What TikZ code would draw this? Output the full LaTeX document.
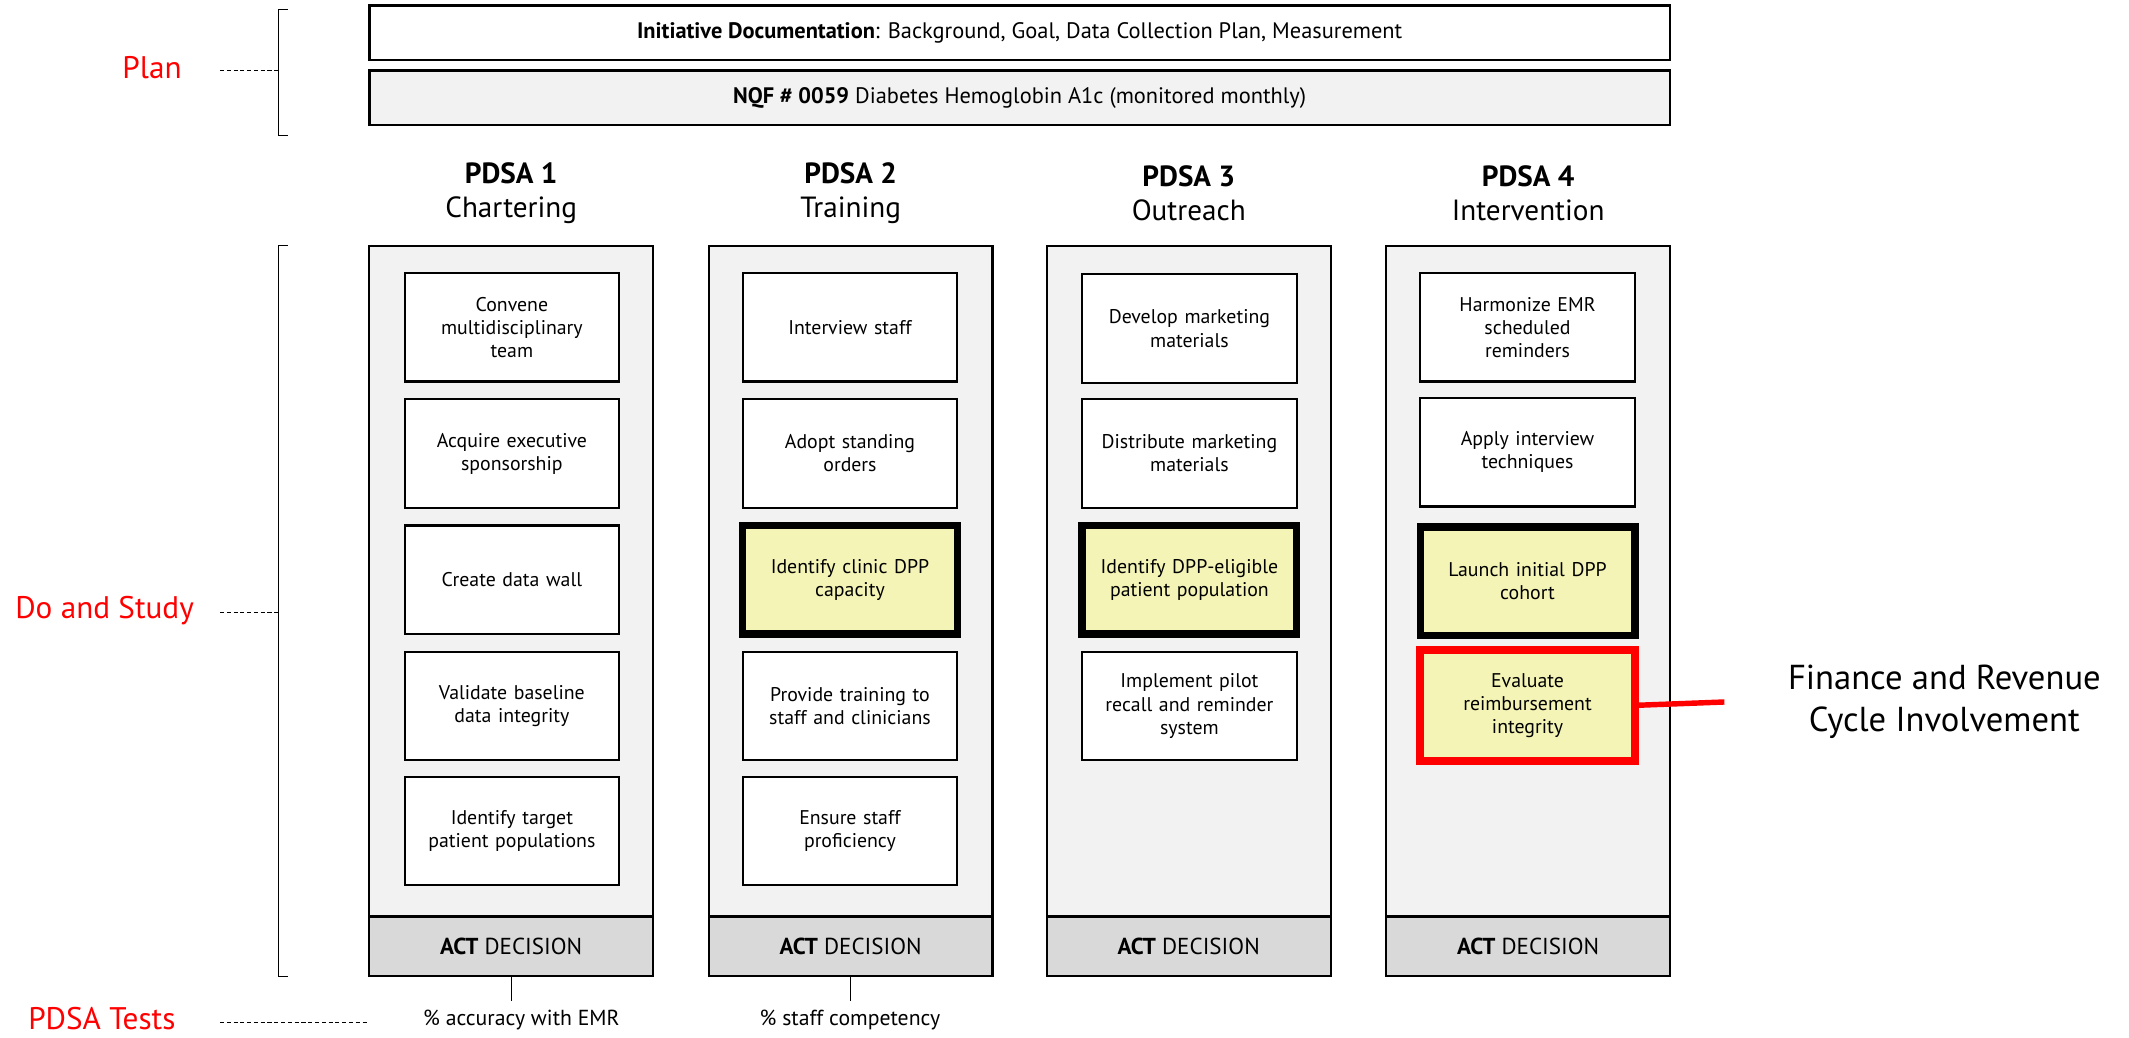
\documentclass[tikz,border=0pt]{standalone}
\usepackage{fontspec}
\setmainfont{PT Sans}
\definecolor{panelgray}{HTML}{F2F2F2}
\definecolor{actgray}{HTML}{D9D9D9}
\definecolor{keyyellow}{HTML}{F4F4B6}
\definecolor{alertred}{HTML}{FF0000}
\tikzset{
  planbox/.style={draw, line width=1.8pt, minimum width=958pt, minimum height=40pt, inner sep=0pt, outer sep=0pt,
    font=\fontsize{16.5}{19}\selectfont},
  colbox/.style={draw, line width=1.6pt, fill=panelgray, minimum width=209pt, minimum height=538pt, inner sep=0pt, outer sep=0pt},
  actbox/.style={draw, line width=1.6pt, fill=actgray, minimum width=209pt, minimum height=44pt, inner sep=0pt, outer sep=0pt,
    font=\fontsize{17}{20}\selectfont},
  stepbox/.style={draw, line width=1.6pt, fill=white, minimum width=158pt, minimum height=80pt, inner sep=0pt, outer sep=0pt,
    align=center, text width=150pt, font=\fontsize{14.6}{17}\selectfont},
  keystep/.style={stepbox, fill=keyyellow, line width=5.5pt},
  alertstep/.style={stepbox, fill=keyyellow, draw=alertred, line width=6pt},
  head/.style={align=center, font=\fontsize{21.5}{25}\selectfont},
  phase/.style={text=alertred, font=\fontsize{23}{27}\selectfont},
  measure/.style={font=\fontsize{16}{19}\selectfont},
  leader/.style={dashed, line width=0.8pt, dash pattern=on 3pt off 2pt},
}
\begin{document}
\begin{tikzpicture}[x=1pt,y=-1pt]
\useasboundingbox (0,0) rectangle (1568,764);

% planning documents
\node[planbox, fill=white] (doc) at (751,24) {\textbf{Initiative Documentation}: Background, Goal, Data Collection Plan, Measurement};
\node[planbox, fill=panelgray] (nqf) at (751,72) {\textbf{NQF \# 0059} Diabetes Hemoglobin A1c (monitored monthly)};

% phase labels with brackets
\node[phase] (plan) at (112,50) {Plan};
\node[phase] (dostudy) at (77,450) {Do and Study};
\node[phase, inner sep=0pt] (tests) at (75,750) {PDSA Tests};
\coordinate (planbr) at (205,52);
\coordinate (dobr) at (205,451);
\coordinate (testend) at (270,753);
\draw[leader] (162,52) -- (planbr);
\draw[leader] (162,451) -- (dobr);
\draw[leader] (162,753) -- (testend);
\draw[line width=0.9pt] (212,7) -- (205,7) -- (205,100) -- (212,100);
\draw[line width=0.9pt] (212,181) -- (205,181) -- (205,719) -- (212,719);

% cycle headings
\node[head] (h1) at (376.5,142) {\textbf{PDSA 1}\\Chartering};
\node[head] (h2) at (626.5,142) {\textbf{PDSA 2}\\Training};
\node[head] (h3) at (875.5,142) {\textbf{PDSA 3}\\Outreach};
\node[head] (h4) at (1125.5,142) {\textbf{PDSA 4}\\Intervention};

% cycle panels
\node[colbox] (col1) at (376.5,450) {};
\node[colbox] (col2) at (626.5,450) {};
\node[colbox] (col3) at (875.5,450) {};
\node[colbox] (col4) at (1125.5,450) {};
\node[actbox] (act1) at (376.5,697) {\textbf{ACT} DECISION};
\node[actbox] (act2) at (626.5,697) {\textbf{ACT} DECISION};
\node[actbox] (act3) at (875.5,697) {\textbf{ACT} DECISION};
\node[actbox] (act4) at (1125.5,697) {\textbf{ACT} DECISION};

% PDSA 1 steps
\node[stepbox] (s1a) at (377,241) {Convene\\multidisciplinary\\team};
\node[stepbox] (s1b) at (377,334) {Acquire executive\\sponsorship};
\node[stepbox] (s1c) at (377,427) {Create data wall};
\node[stepbox] (s1d) at (377,520) {Validate baseline\\data integrity};
\node[stepbox] (s1e) at (377,612) {Identify target\\patient populations};

% PDSA 2 steps
\node[stepbox] (s2a) at (626,241) {Interview staff};
\node[stepbox] (s2b) at (626,334) {Adopt standing\\orders};
\node[keystep] (s2c) at (626,427) {Identify clinic DPP\\capacity};
\node[stepbox] (s2d) at (626,520) {Provide training to\\staff and clinicians};
\node[stepbox] (s2e) at (626,612) {Ensure staff\\proficiency};

% PDSA 3 steps
\node[stepbox] (s3a) at (876,242) {Develop marketing\\materials};
\node[stepbox] (s3b) at (876,334) {Distribute marketing\\materials};
\node[keystep] (s3c) at (876,427) {Identify DPP-eligible\\patient population};
\node[stepbox] (s3d) at (876,520) {Implement pilot\\recall and reminder\\system};

% PDSA 4 steps
\node[stepbox] (s4a) at (1125,241) {Harmonize EMR\\scheduled\\reminders};
\node[stepbox] (s4b) at (1125,333) {Apply interview\\techniques};
\node[keystep] (s4c) at (1125,428) {Launch initial DPP\\cohort};
\node[alertstep, minimum height=82pt] (s4d) at (1125,519.5) {Evaluate\\reimbursement\\integrity};

% finance callout
\node[align=center, font=\fontsize{25.5}{31}\selectfont] (finance) at (1432,517) {Finance and Revenue\\Cycle Involvement};
\coordinate (finend) at (1270,517);
\draw[alertred, line width=4pt] (s4d.east) -- (finend);

% test measures
\node[measure, inner sep=0pt] (m1) at (384,751) {\% accuracy with EMR};
\node[measure, inner sep=0pt] (m2) at (626,751) {\% staff competency};
\draw[line width=0.9pt] (act1.south) -- ++(0,18);
\draw[line width=0.9pt] (act2.south) -- ++(0,18);
\end{tikzpicture}
\end{document}
